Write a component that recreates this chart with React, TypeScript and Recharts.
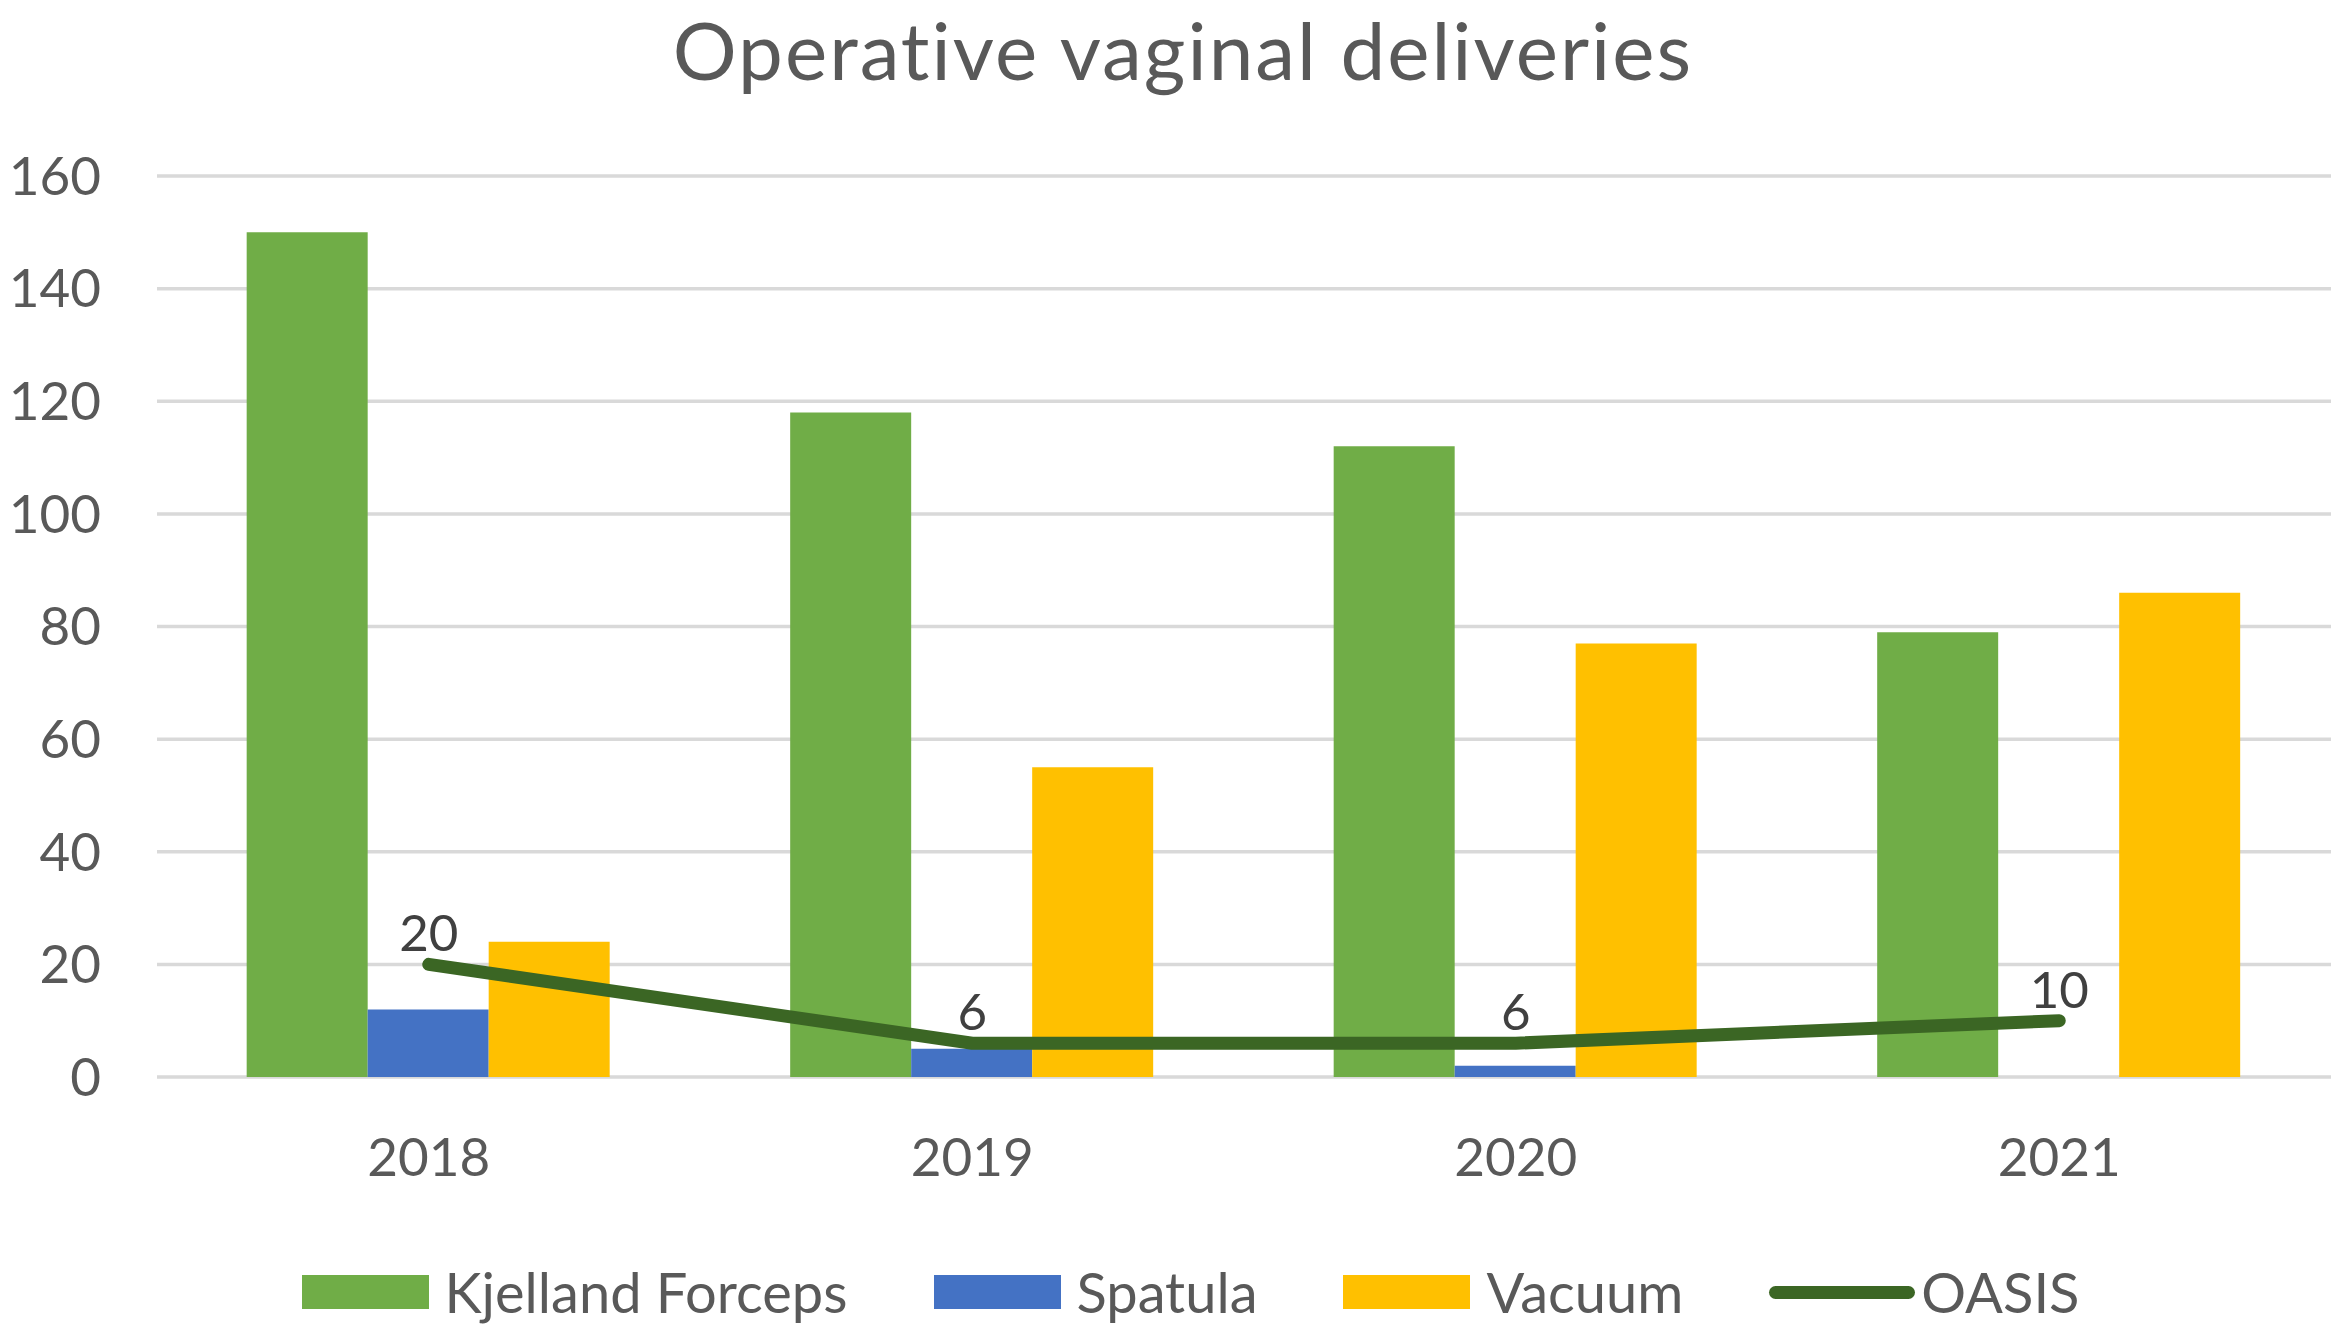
import React from 'react';
import { ComposedChart, Bar, Line, XAxis, YAxis, CartesianGrid, Legend, LabelList } from 'recharts';

const years = ['2018', '2019', '2020', '2021'];
const kjelland = [150, 118, 112, 79];
const spatula = [12, 5, 2, 0];
const vacuum = [24, 55, 77, 86];
const oasis = [20, 6, 6, 10];
const yTicks = [0, 20, 40, 60, 80, 100, 120, 140, 160];

const seriesNames = ['Kjelland Forceps', 'Spatula', 'Vacuum', 'OASIS'];
const colors = ['#70AD47', '#4472C4', '#FFC000', '#3B6624'];

const data = years.map((y, i) => ({
  year: y,
  kjelland: kjelland[i],
  spatula: spatula[i],
  vacuum: vacuum[i],
  oasis: oasis[i],
}));

const FONT = 'Lato, "Open Sans", sans-serif';

const LegendContent = () => (
  <div
    style={{
      display: 'flex',
      justifyContent: 'center',
      alignItems: 'center',
      height: 60,
      fontFamily: FONT,
      fontSize: 56,
      color: '#595959',
      paddingLeft: 40,
    }}
  >
    {seriesNames.map((name, i) => (
      <div key={name} style={{ display: 'flex', alignItems: 'center', marginRight: i < 3 ? 86 : 0 }}>
        {i < 3 ? (
          <div style={{ width: 127, height: 34, background: colors[i], marginRight: 16 }} />
        ) : (
          <div style={{ width: 146, height: 13, borderRadius: 7, background: colors[i], marginRight: 6 }} />
        )}
        <span style={{ lineHeight: '60px' }}>{name}</span>
      </div>
    ))}
  </div>
);

const OasisLabel = (props: any) => {
  const { x, y, value } = props;
  return (
    <text x={x} y={y - 13} textAnchor="middle" fontFamily={FONT} fontSize={51} fill="#404040">
      {value}
    </text>
  );
};

export default function App() {
  return (
    <div style={{ position: 'absolute', left: 0, top: 0, width: 2341, height: 1332, background: '#fff' }}>
      <ComposedChart
        width={2341}
        height={1332}
        data={data}
        margin={{ top: 176, right: 10, bottom: 155, left: 0 }}
        barCategoryGap="16.5%"
        barGap={0}
      >
        <text
          x={1183}
          y={80}
          textAnchor="middle"
          fontFamily={FONT}
          fontSize={80}
          letterSpacing={2}
          fill="#595959"
        >
          Operative vaginal deliveries
        </text>
        <CartesianGrid horizontal vertical={false} stroke="#D9D9D9" strokeWidth={3.5} />
        <XAxis
          dataKey="year"
          axisLine={false}
          tickLine={false}
          height={100}
          tickMargin={55}
          tick={{ fontFamily: FONT, fontSize: 53, fill: '#595959' }}
        />
        <YAxis
          domain={[0, 160]}
          ticks={yTicks}
          width={157}
          axisLine={false}
          tickLine={false}
          tickMargin={50}
          interval={0}
          tick={{ fontFamily: FONT, fontSize: 53, fill: '#595959' }}
        />
        <Legend
          verticalAlign="middle"
          layout="horizontal"
          align="center"
          content={<LegendContent />}
          wrapperStyle={{ top: 1262, left: 0, width: 2341 }}
        />
        <Bar dataKey="kjelland" name={seriesNames[0]} fill={colors[0]} isAnimationActive={false} />
        <Bar dataKey="spatula" name={seriesNames[1]} fill={colors[1]} isAnimationActive={false} />
        <Bar dataKey="vacuum" name={seriesNames[2]} fill={colors[2]} isAnimationActive={false} />
        <Line
          dataKey="oasis"
          name={seriesNames[3]}
          type="linear"
          stroke={colors[3]}
          strokeWidth={13}
          strokeLinecap="round"
          strokeLinejoin="round"
          dot={false}
          activeDot={false}
          isAnimationActive={false}
        >
          <LabelList dataKey="oasis" content={<OasisLabel />} />
        </Line>
      </ComposedChart>
    </div>
  );
}
